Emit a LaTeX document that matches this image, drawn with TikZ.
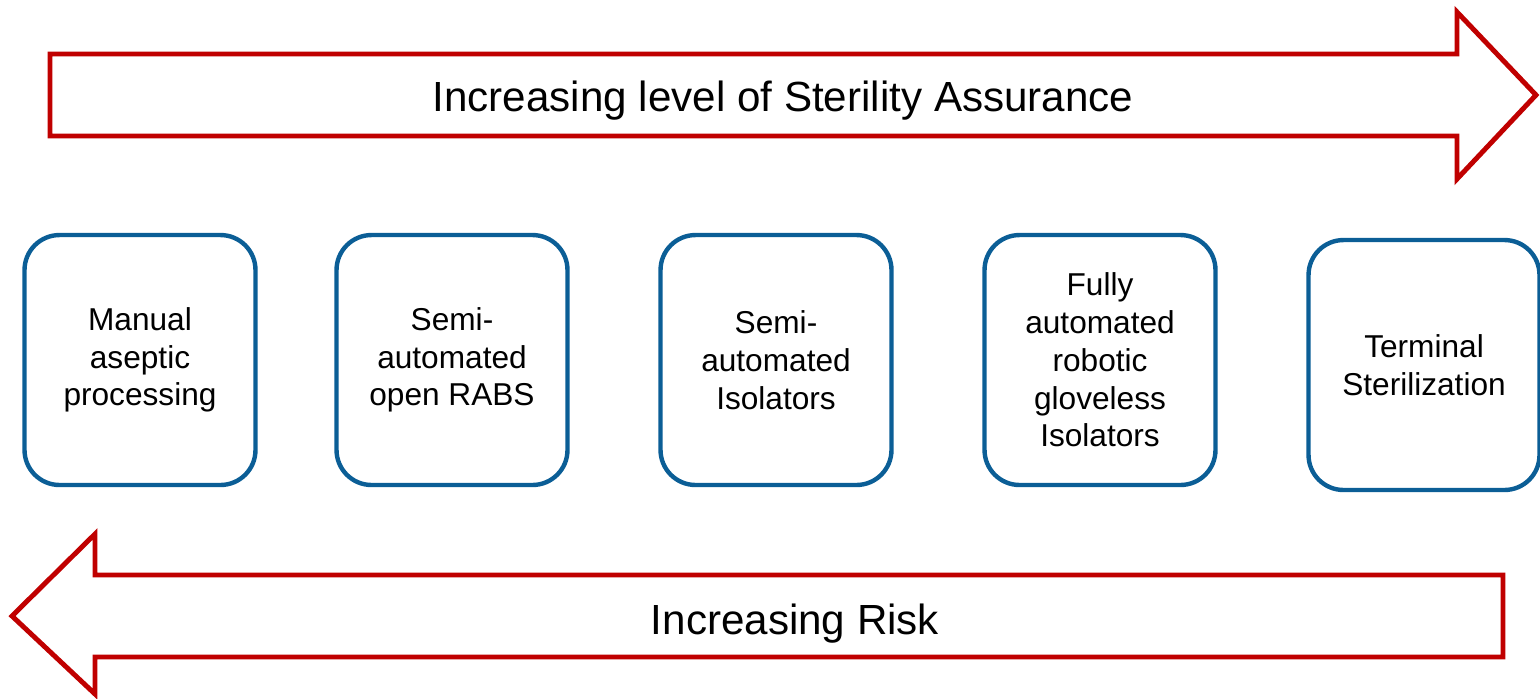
\documentclass[tikz,border=0pt]{standalone}
\usepackage{fontspec}
\setmainfont{Liberation Sans}
\definecolor{arrred}{HTML}{C00000}
\definecolor{boxblue}{HTML}{0B5E96}
\begin{document}
\begin{tikzpicture}[x=0.02cm,y=-0.02cm,
  bigarrow/.style={draw=arrred,line width=2.8pt,fill=white,line join=miter},
  stage/.style={draw=boxblue,line width=2.5pt,rounded corners=0.7cm,minimum width=4.62cm,minimum height=5cm,align=center,font=\fontsize{18}{21.5}\selectfont,inner sep=0pt},
  arrlabel/.style={font=\fontsize{24}{28}\selectfont,inner sep=0pt}]
\useasboundingbox (0,0) rectangle (1540,698);
% top arrow
\draw[bigarrow] (50,54) -- (1457,54) -- (1457,12) -- (1536,95) -- (1457,179) -- (1457,136) -- (50,136) -- cycle;
\node[arrlabel] (top) at (783,101) {Increasing level of Sterility Assurance};
% bottom arrow
\draw[bigarrow] (1503,575) -- (95,575) -- (95,534) -- (12,616) -- (95,694) -- (95,657) -- (1503,657) -- cycle;
\node[arrlabel] (bot) at (795,624) {Increasing Risk};
% boxes
\node[stage] (b1) at (140,360) {Manual\\aseptic\\processing};
\node[stage] (b2) at (452,360) {Semi-\\automated\\open RABS};
\node[stage] (b3) at (776,360) {Semi-\\automated\\Isolators};
\node[stage] (b4) at (1100,360) {Fully\\automated\\robotic\\gloveless\\Isolators};
\node[stage] (b5) at (1424,365) {Terminal\\Sterilization};
\end{tikzpicture}
\end{document}
